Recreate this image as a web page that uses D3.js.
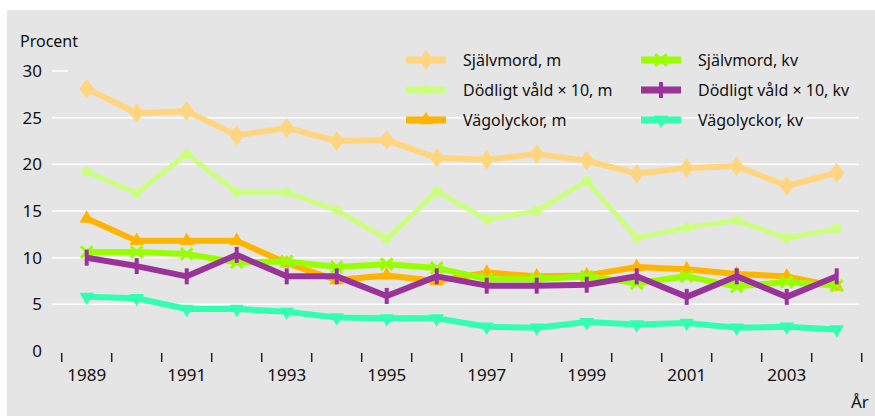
<!DOCTYPE html>
<html>
<head>
<meta charset="utf-8">
<script src="https://cdn.jsdelivr.net/npm/d3@7"></script>
<style>
  body { margin: 0; background: #fff; }
  svg text { font-family: "Noto Sans", sans-serif; fill: #111; }
</style>
</head>
<body>
<svg id="chart" width="875" height="416"></svg>
<script>
// years on the x axis
var years = d3.range(1989, 2005);
var yearLabels = [1989, 1991, 1993, 1995, 1997, 1999, 2001, 2003];
var yTicks = [0, 5, 10, 15, 20, 25, 30];

// series values
var sjalvmordM = [28.1, 25.5, 25.7, 23.1, 23.9, 22.5, 22.6, 20.7, 20.5, 21.1, 20.4, 19.0, 19.6, 19.8, 17.7, 19.1];
var dodligtM   = [19.2, 16.9, 21.1, 17.0, 17.0, 15.1, 12.0, 17.1, 14.1, 15.0, 18.2, 12.1, 13.2, 14.0, 12.1, 13.1];
var vagM       = [14.2, 11.8, 11.8, 11.8, 9.4, 7.6, 8.1, 7.5, 8.4, 8.0, 8.1, 9.0, 8.75, 8.25, 8.0, 6.9];
var sjalvmordK = [10.6, 10.6, 10.4, 9.5, 9.6, 9.0, 9.3, 8.9, 7.7, 7.7, 8.0, 7.25, 8.0, 6.9, 7.4, 7.0];
var dodligtK   = [10.0, 9.1, 8.0, 10.3, 8.0, 8.0, 5.9, 8.0, 7.0, 7.0, 7.1, 8.0, 5.8, 8.0, 5.8, 8.0];
var vagK       = [5.8, 5.65, 4.5, 4.5, 4.2, 3.6, 3.5, 3.5, 2.6, 2.5, 3.1, 2.85, 3.0, 2.5, 2.6, 2.3];

var seriesNames = ["Självmord, m", "Dödligt våld × 10, m", "Vägolyckor, m",
                   "Självmord, kv", "Dödligt våld × 10, kv", "Vägolyckor, kv"];

var series = [
  { name: seriesNames[0], values: sjalvmordM, color: "#ffd580", marker: "diamond", width: 6 },
  { name: seriesNames[1], values: dodligtM,   color: "#ccff80", marker: "circle",  width: 5 },
  { name: seriesNames[2], values: vagM,       color: "#ffb400", marker: "triUp",   width: 6 },
  { name: seriesNames[3], values: sjalvmordK, color: "#99ff00", marker: "cross",   width: 6 },
  { name: seriesNames[4], values: dodligtK,   color: "#993399", marker: "bar",     width: 6 },
  { name: seriesNames[5], values: vagK,       color: "#33ffb0", marker: "triDown", width: 6 }
];

var svg = d3.select("#chart");

// grey panel
svg.append("rect")
  .attr("x", 7).attr("y", 10)
  .attr("width", 868).attr("height", 406)
  .attr("fill", "#e5e5e5");

var x = d3.scaleLinear().domain([1988.5, 2004.5]).range([61.7, 861.7]);
var y = d3.scaleLinear().domain([0, 30]).range([351, 71]);

// gridlines
svg.append("g").selectAll("line")
  .data(yTicks.filter(function (d) { return d > 0; }))
  .enter().append("line")
  .attr("x1", 52)
  .attr("x2", function (d) { return d == 30 ? 68 : 859; })
  .attr("y1", function (d) { return y(d); })
  .attr("y2", function (d) { return y(d); })
  .attr("stroke", "#fff")
  .attr("stroke-width", 1.5);

// y labels
svg.append("g").selectAll("text")
  .data(yTicks)
  .enter().append("text")
  .attr("x", 42)
  .attr("y", function (d) { return y(d); })
  .attr("dy", "0.36em")
  .attr("text-anchor", "end")
  .style("font-size", "17px")
  .text(function (d) { return d; });

svg.append("text")
  .attr("x", 20).attr("y", 47)
  .style("font-size", "16px")
  .text("Procent");

// x ticks between the years
svg.append("g").selectAll("line")
  .data(d3.range(1988.5, 2005, 1))
  .enter().append("line")
  .attr("x1", function (d) { return x(d); })
  .attr("x2", function (d) { return x(d); })
  .attr("y1", 353).attr("y2", 362)
  .attr("stroke", "#222")
  .attr("stroke-width", 1.5);

svg.append("g").selectAll("text")
  .data(yearLabels)
  .enter().append("text")
  .attr("x", function (d) { return x(d); })
  .attr("y", 381)
  .attr("text-anchor", "middle")
  .style("font-size", "17px")
  .text(function (d) { return d; });

svg.append("text")
  .attr("x", 851).attr("y", 408)
  .style("font-size", "17px")
  .text("År");

function drawMarker(g, type, color, cx, cy) {
  if (type == "diamond") {
    g.append("path").attr("d", d3.symbol().type(d3.symbolDiamond).size(110)())
      .attr("transform", "translate(" + cx + "," + cy + ") scale(1.3,1)")
      .attr("fill", color);
  } else if (type == "circle") {
    g.append("circle").attr("cx", cx).attr("cy", cy).attr("r", 5).attr("fill", color);
  } else if (type == "triUp") {
    g.append("path").attr("d", d3.symbol().type(d3.symbolTriangle).size(90)())
      .attr("transform", "translate(" + cx + "," + cy + ")")
      .attr("fill", color);
  } else if (type == "triDown") {
    g.append("path").attr("d", d3.symbol().type(d3.symbolTriangle).size(90)())
      .attr("transform", "translate(" + cx + "," + cy + ") rotate(180)")
      .attr("fill", color);
  } else if (type == "cross") {
    g.append("path").attr("d", d3.symbol().type(d3.symbolX).size(90)())
      .attr("transform", "translate(" + cx + "," + cy + ")")
      .attr("fill", "none").attr("stroke", color).attr("stroke-width", 3);
  } else if (type == "bar") {
    g.append("line")
      .attr("x1", cx).attr("x2", cx)
      .attr("y1", cy - 8).attr("y2", cy + 8)
      .attr("stroke", color).attr("stroke-width", 4);
  }
}

var line = d3.line()
  .x(function (d, i) { return x(years[i]); })
  .y(function (d) { return y(d); });

series.forEach(function (s) {
  var g = svg.append("g");
  g.append("path")
    .datum(s.values)
    .attr("d", line)
    .attr("fill", "none")
    .attr("stroke", s.color)
    .attr("stroke-width", s.width)
    .attr("stroke-linejoin", "round");
  s.values.forEach(function (v, i) {
    drawMarker(g, s.marker, s.color, x(years[i]), y(v));
  });
});

// legend, two columns
var legendX = [406, 641];
var legendY = [60, 90, 120];
series.forEach(function (s, i) {
  var col = Math.floor(i / 3), row = i % 3;
  var g = svg.append("g");
  var lx = legendX[col], ly = legendY[row];
  g.append("line")
    .attr("x1", lx).attr("x2", lx + 40)
    .attr("y1", ly).attr("y2", ly)
    .attr("stroke", s.color).attr("stroke-width", 7);
  drawMarker(g, s.marker, s.color, lx + 20, ly);
  g.append("text")
    .attr("x", lx + 57).attr("y", ly)
    .attr("dy", "0.36em")
    .style("font-size", "16px")
    .text(s.name);
});
</script>
</body>
</html>
